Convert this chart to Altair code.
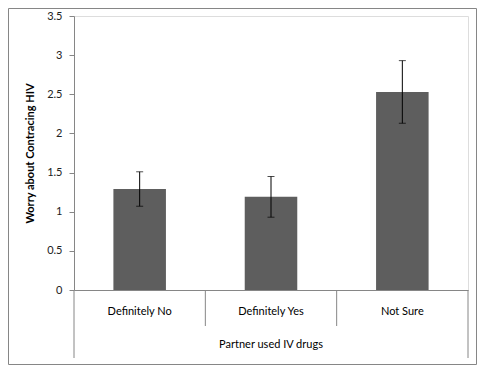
import altair as alt
import pandas as pd

categories = ["Definitely No", "Definitely Yes", "Not Sure"]
means = [1.29, 1.19, 2.53]
errors = [0.22, 0.26, 0.40]
group_label = "Partner used IV drugs"
y_title = "Worry about Contracing HIV"
y_ticks = [0, 0.5, 1, 1.5, 2, 2.5, 3, 3.5]

FONT = "Lato"
AXIS_GRAY = "#868686"
BAR_COLOR = "#5e5e5e"

n = len(categories)
df = pd.DataFrame({
    "cat": categories,
    "mean": means,
    "err": errors,
})
df["pos"] = range(n)
df["lo"] = df["pos"] + 0.3
df["hi"] = df["pos"] + 0.7
df["mid"] = df["pos"] + 0.5
df["ylo"] = df["mean"] - df["err"]
df["yhi"] = df["mean"] + df["err"]

xscale = alt.Scale(domain=[0, n], nice=False, zero=False)
yscale = alt.Scale(domain=[0, 3.5], nice=False)

yaxis = alt.Axis(values=y_ticks, format="~g", grid=False,
                 title=y_title, titleFont=FONT, titleFontSize=11,
                 titleFontWeight="bold", titleColor="#000",
                 titleAngle=270, titleX=-44, titleY=137,
                 titleAlign="center", titleBaseline="middle",
                 labelFont=FONT, labelFontSize=11, labelColor="#222",
                 labelPadding=7, tickSize=5, tickColor=AXIS_GRAY,
                 domainColor=AXIS_GRAY)
xaxis = alt.Axis(labels=False, ticks=False, grid=False, title=None,
                 domainColor=AXIS_GRAY, domainWidth=1)

base = alt.Chart(df)

bars = base.mark_bar(color=BAR_COLOR).encode(
    x=alt.X("lo:Q", scale=xscale, axis=xaxis),
    x2="hi:Q",
    y=alt.Y("mean:Q", scale=yscale, axis=yaxis),
    y2=alt.datum(0),
)

err_rule = base.mark_rule(color="black", strokeWidth=1).encode(
    x=alt.X("mid:Q", scale=xscale, axis=xaxis),
    y=alt.Y("ylo:Q", scale=yscale, axis=yaxis), y2="yhi:Q"
)
cap_hi = base.mark_tick(color="black", orient="horizontal", size=7, thickness=1).encode(
    x=alt.X("mid:Q", scale=xscale, axis=xaxis), y=alt.Y("yhi:Q", scale=yscale, axis=yaxis)
)
cap_lo = base.mark_tick(color="black", orient="horizontal", size=7, thickness=1).encode(
    x=alt.X("mid:Q", scale=xscale, axis=xaxis), y=alt.Y("ylo:Q", scale=yscale, axis=yaxis)
)

cat_labels = base.mark_text(font=FONT, fontSize=11, color="#000", baseline="middle").encode(
    x=alt.X("mid:Q", scale=xscale, axis=xaxis), y=alt.value(296), text="cat:N"
)

inner_df = pd.DataFrame({"b": list(range(1, n))})
outer_df = pd.DataFrame({"b": [0, n]})
inner_div = alt.Chart(inner_df).mark_rule(color=AXIS_GRAY).encode(
    x=alt.X("b:Q", scale=xscale, axis=xaxis), y=alt.value(274), y2=alt.value(310)
)
outer_div = alt.Chart(outer_df).mark_rule(color=AXIS_GRAY).encode(
    x=alt.X("b:Q", scale=xscale, axis=xaxis), y=alt.value(274), y2=alt.value(342)
)

grp_df = pd.DataFrame({"label": [group_label], "c": [n / 2]})
grp_text = alt.Chart(grp_df).mark_text(font=FONT, fontSize=11, color="#000", baseline="middle").encode(
    x=alt.X("c:Q", scale=xscale, axis=xaxis), y=alt.value(329), text="label:N"
)

border = alt.Chart(pd.DataFrame({"k": [0]})).mark_rect(
    fill=None, stroke=AXIS_GRAY, strokeWidth=1
).encode(
    x=alt.value(-65.5), x2=alt.value(402.5), y=alt.value(-7.5), y2=alt.value(348.5)
)

chart = alt.layer(
    border, bars, err_rule, cap_hi, cap_lo, cat_labels, inner_div, outer_div, grp_text
).properties(
    width=394, height=274,
    autosize=alt.AutoSizeParams(type="none"),
    padding={"left": 66, "top": 8, "right": 9, "bottom": 75},
).configure_view(stroke=None).configure(background="white")

chart.save("out.html", embed_options={"renderer": "svg", "actions": False})
